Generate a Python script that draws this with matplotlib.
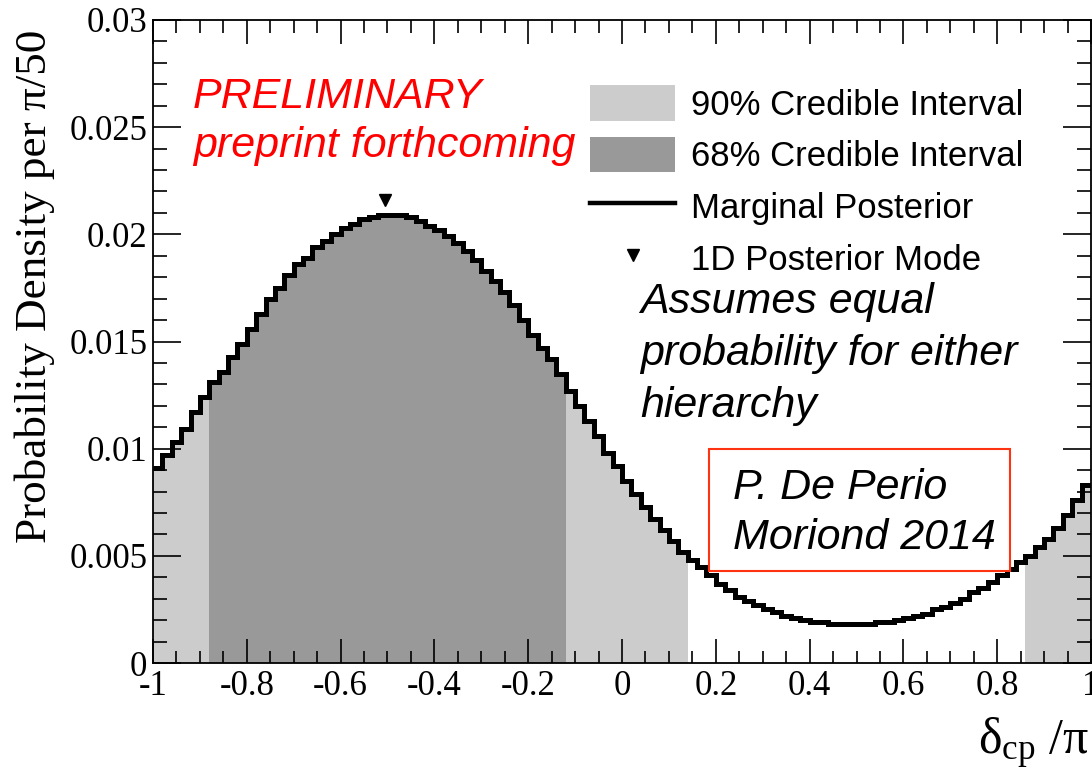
import numpy as np
import matplotlib
matplotlib.use("Agg")
import matplotlib.pyplot as plt
from matplotlib.patches import Patch
from matplotlib.lines import Line2D

# ---------------- data ----------------
bin_lo, bin_hi, n_bins = -1.0, 1.0, 100
posterior = [
    0.0091, 0.0097, 0.0103, 0.0109, 0.0117, 0.0124, 0.0131, 0.0136, 0.0143, 0.0149,
    0.0156, 0.0163, 0.0170, 0.0175, 0.0181, 0.0186, 0.0189, 0.0194, 0.0197, 0.0200,
    0.0203, 0.0205, 0.0207, 0.0208, 0.0209, 0.0209, 0.0209, 0.0208, 0.0206, 0.0204,
    0.0202, 0.0199, 0.0196, 0.0192, 0.0188, 0.0183, 0.0178, 0.0173, 0.0167, 0.0160,
    0.0153, 0.0147, 0.0142, 0.0135, 0.0127, 0.0120, 0.0113, 0.0106, 0.0098, 0.0092,
    0.0085, 0.0079, 0.0073, 0.0067, 0.0062, 0.0057, 0.0052, 0.0048, 0.0045, 0.0041,
    0.0037, 0.0034, 0.0031, 0.0029, 0.0027, 0.0025, 0.0024, 0.0022, 0.0021, 0.0020,
    0.0019, 0.0019, 0.0018, 0.0018, 0.0018, 0.0018, 0.0018, 0.0019, 0.0019, 0.0020,
    0.0021, 0.0022, 0.0023, 0.0025, 0.0026, 0.0028, 0.0030, 0.0033, 0.0035, 0.0038,
    0.0041, 0.0044, 0.0047, 0.0050, 0.0054, 0.0058, 0.0063, 0.0069, 0.0076, 0.0083,
]
# credible intervals (in units of delta_cp / pi)
ci90 = [(-1.0, 0.14), (0.86, 1.0)]
ci68 = [(-0.88, -0.12)]
mode_x, mode_y = -0.505, 0.0216

legend_labels = ["90% Credible Interval", "68% Credible Interval",
                 "Marginal Posterior", "1D Posterior Mode"]
xticks = [-1, -0.8, -0.6, -0.4, -0.2, 0, 0.2, 0.4, 0.6, 0.8, 1]
yticks = [0, 0.005, 0.01, 0.015, 0.02, 0.025, 0.03]

# ---------------- style ----------------
plt.rcParams['mathtext.fontset'] = 'custom'
plt.rcParams['mathtext.rm'] = 'Liberation Serif'
plt.rcParams['mathtext.it'] = 'Liberation Serif:italic'

light = '#cccccc'
dark = '#999999'

W, H = 1092, 767
fig = plt.figure(figsize=(W / 100, H / 100), dpi=100)
ax = fig.add_axes([153 / W, 1 - 663 / H, (1091 - 153) / W, (663 - 20) / H])

vals = np.array(posterior)
edges = np.linspace(bin_lo, bin_hi, n_bins + 1)
centers = 0.5 * (edges[:-1] + edges[1:])


def fill_range(lo, hi, color):
    m = (centers > lo) & (centers < hi)
    idx = np.where(m)[0]
    ax.stairs(vals[idx], edges[idx[0]:idx[-1] + 2], fill=True, color=color,
              linewidth=0, zorder=1)


for lo, hi in ci90:
    fill_range(lo, hi, light)
for lo, hi in ci68:
    fill_range(lo, hi, dark)

ax.stairs(vals, edges, baseline=None, color='black', linewidth=3.6, zorder=3)
ax.plot([mode_x], [mode_y], marker='v', color='black', markersize=9,
        linestyle='none', zorder=4)

ax.set_xlim(bin_lo, bin_hi)
ax.set_ylim(0, 0.03)
ax.set_xticks(xticks)
ax.set_xticklabels([f"{t:g}" for t in xticks])
ax.set_yticks(yticks)
ax.set_yticklabels([f"{t:g}" for t in yticks])
ax.set_xticks(np.arange(-1, 1.0001, 0.05), minor=True)
ax.set_yticks(np.arange(0, 0.03001, 0.001), minor=True)

ax.tick_params(which='both', direction='in', top=True, right=True, width=1.2,
               colors='black')
ax.tick_params(which='major', axis='y', length=20, pad=4)
ax.tick_params(which='minor', axis='y', length=10)
ax.tick_params(which='major', axis='x', length=17, pad=5)
ax.tick_params(which='minor', axis='x', length=9)
for lab in ax.get_xticklabels() + ax.get_yticklabels():
    lab.set_fontfamily('Liberation Serif')
    lab.set_fontsize(25)
for s in ax.spines.values():
    s.set_linewidth(1.3)

ax.set_ylabel("Probability Density per π/50", family='Liberation Serif',
              fontsize=32.5, loc='top')
ax.yaxis.set_label_coords(-0.104, 0.985)
ax.set_xlabel(r"δ$_{\mathrm{cp}}$ /π", family='Liberation Serif', fontsize=36,
              loc='right')
ax.xaxis.set_label_coords(0.998, -0.082)

handles = [Patch(facecolor=light, edgecolor='none'),
           Patch(facecolor=dark, edgecolor='none'),
           Line2D([0], [0], color='black', linewidth=3.2),
           Line2D([0], [0], color='black', marker='v', markersize=8, linestyle='none')]
leg = ax.legend(handles, legend_labels, loc='upper left',
                bbox_to_anchor=(590 / W, 1 - 85 / H), bbox_transform=fig.transFigure,
                frameon=False, borderpad=0, borderaxespad=0,
                prop={'family': 'Liberation Sans', 'size': 25},
                handlelength=2.45, handleheight=1.2, labelspacing=0.44,
                handletextpad=0.45)
leg.set_zorder(5)

sans_it = {'family': 'Liberation Sans', 'style': 'italic'}
fig.text(193 / W, 1 - 97 / H, "PRELIMINARY", color='#ff0000', fontsize=31,
         va='center', ha='left', **sans_it)
fig.text(193 / W, 1 - 146 / H, "preprint forthcoming", color='#ff0000', fontsize=31,
         va='center', ha='left', **sans_it)

fig.text(640 / W, 1 - 354 / H, "Assumes equal\nprobability for either\nhierarchy",
         color='black', fontsize=31, va='center', ha='left', linespacing=1.38,
         **sans_it)

fig.text(733 / W, 1 - 513 / H, "P. De Perio\nMoriond 2014", color='black',
         fontsize=31, va='center', ha='left', linespacing=1.32, zorder=6, **sans_it)
box = plt.Rectangle((709 / W, 1 - 571 / H), (1010 - 709) / W, (571 - 449) / H,
                    transform=fig.transFigure, facecolor='white',
                    edgecolor='#ff3311', linewidth=1.5, zorder=5)
fig.add_artist(box)

fig.savefig("out.png", dpi=100)
